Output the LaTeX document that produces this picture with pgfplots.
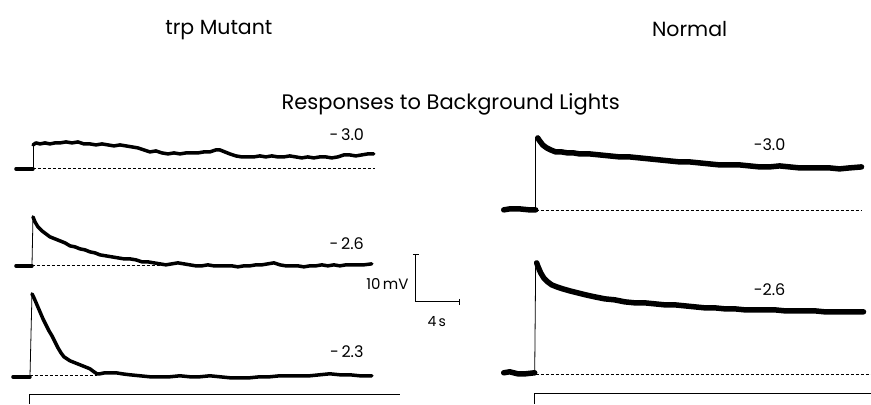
\documentclass[border=0pt]{standalone}
\usepackage{pgfplots}
\pgfplotsset{compat=1.18}
\usepackage{fontspec}
\setmainfont{Poppins}
\begin{document}
\begin{tikzpicture}
\begin{axis}[
  scale only axis, width=871pt, height=404pt,
  xmin=0, xmax=871, ymin=0, ymax=404, y dir=reverse,
  hide axis, clip=false,
  trace/.style={black, line width=3.5pt, line join=round, line cap=round},
  ntrace/.style={black, line width=5.5pt, line join=round, line cap=round},
  step/.style={black, line width=0.8pt},
  base/.style={black, line width=1pt, dash pattern=on 3pt off 2pt},
]
\path (axis cs:0,0) rectangle (axis cs:871,404);
% ---- trp mutant, -3.0
\addplot[trace] coordinates {(16,169)(33,169)};
\addplot[step] coordinates {(33,169)(33,145)};
\addplot[base] coordinates {(33,169)(375,169)};
\addplot[trace] coordinates {(33,145)(36,143)(40,144)(45,143)(50,144)(55,143)(60,143)(66,142)(72,143)(78,142)(84,144)(90,144)(96,145)(102,144)(108,145)(114,146)(120,145)(126,146)(132,147)(138,148)(144,150)(150,152)(156,151)(162,153)(168,154)(174,153)(180,154)(186,153)(192,153)(198,153)(204,152)(210,152)(216,150)(220,150)(225,152)(230,154)(236,156)(242,157)(248,157)(254,157)(260,156)(266,157)(272,156)(278,157)(284,157)(290,156)(296,157)(302,158)(308,157)(314,158)(320,157)(326,157)(332,158)(338,157)(344,155)(350,155)(356,156)(362,155)(368,154)(374,154)};
% ---- trp mutant, -2.6
\addplot[trace] coordinates {(16,266)(32,266)};
\addplot[step] coordinates {(32,266)(33,217)};
\addplot[base] coordinates {(32,266)(170,266)};
\addplot[trace] coordinates {(33,217)(35,222)(38,227)(42,231)(46,234)(50,237)(55,239)(60,241)(65,243)(70,246)(75,247)(80,249)(85,250)(90,252)(95,253)(100,255)(106,256)(112,257)(118,258)(124,259)(130,259)(136,260)(142,262)(148,262)(154,263)(160,264)(166,265)(172,264)(178,263)(184,264)(190,265)(196,266)(202,266)(208,265)(214,266)(220,266)(226,266)(232,266)(238,267)(244,266)(250,266)(256,265)(262,265)(268,264)(274,263)(280,265)(286,266)(292,266)(298,266)(304,267)(310,266)(316,266)(322,265)(328,266)(334,265)(340,266)(346,265)(352,265)(358,265)(364,265)(372,264)};
% ---- trp mutant, -2.3
\addplot[trace] coordinates {(13,377)(30,377)};
\addplot[step] coordinates {(30,377)(32,294)};
\addplot[base] coordinates {(30,376)(97,376)};
\addplot[trace] coordinates {(32,294)(34,298)(37,305)(40,312)(43,319)(46,325)(49,331)(52,336)(55,342)(58,348)(61,353)(64,357)(67,359)(70,361)(75,363)(80,365)(85,367)(90,369)(94,372)(97,374)(100,374)(105,373)(110,373)(116,373)(122,374)(130,375)(140,376)(150,377)(160,377)(170,377)(180,376)(190,377)(200,377)(210,376)(220,377)(230,378)(240,378)(250,378)(260,377)(270,377)(280,376)(290,376)(300,376)(310,376)(320,375)(330,374)(340,375)(350,375)(360,376)(372,376)};
% stimulus line left
\addplot[black, line width=1pt] coordinates {(30,404)(30,395)(400,395)};
% ---- normal, -3.0
\addplot[ntrace] coordinates {(504,210)(510,209)(520,209)(530,210)(536,210)};
\addplot[step] coordinates {(536,210)(536,137)};
\addplot[base] coordinates {(536,211)(862,211)};
\addplot[ntrace] coordinates {(538,138)(540,141)(543,145)(547,148)(551,150)(556,152)(562,152)(568,153)(574,153)(580,154)(590,154)(600,155)(610,156)(620,157)(630,157)(640,158)(650,159)(660,160)(670,161)(680,162)(690,162)(700,163)(710,164)(720,165)(730,165)(740,165)(750,166)(760,167)(770,167)(780,166)(790,167)(800,168)(810,168)(820,168)(830,168)(840,169)(850,168)(862,167)};
% ---- normal, -2.6
\addplot[ntrace] coordinates {(504,373)(510,372)(518,374)(526,374)(535,373)};
\addplot[step] coordinates {(535,374)(536,262)};
\addplot[base] coordinates {(536,375)(871,375)};
\addplot[ntrace] coordinates {(537,263)(538,266)(541,273)(544,278)(548,282)(552,285)(557,287)(563,289)(570,291)(578,293)(586,295)(595,297)(605,299)(615,300)(625,302)(635,303)(645,303)(655,304)(665,305)(675,305)(685,306)(695,307)(705,308)(715,308)(725,309)(735,309)(745,310)(755,310)(765,310)(775,310)(785,311)(795,311)(805,311)(815,311)(825,312)(835,312)(845,312)(855,312)(864,312)};
% stimulus line right
\addplot[black, line width=1pt] coordinates {(535,404)(535,394)(871,394)};
% ---- scale bar
\addplot[black, line width=1.2pt] coordinates {(416,255)(416,302)(460,302)};
\addplot[black, line width=1.2pt] coordinates {(413,255)(419,255)};
\addplot[black, line width=1.2pt] coordinates {(460,299)(460,305)};
% ---- texts
\node[font=\fontsize{20.5}{24}\selectfont] at (axis cs:219,30) {trp Mutant};
\node[font=\fontsize{20.5}{24}\selectfont] at (axis cs:690,29) {Normal};
\node[font=\fontsize{21}{25}\selectfont] at (axis cs:451,104) {Responses to Background Lights};
\node[font=\fontsize{16}{19}\selectfont] at (axis cs:347,135) {-\,3.0};
\node[font=\fontsize{16}{19}\selectfont] at (axis cs:347,244) {-\,2.6};
\node[font=\fontsize{16}{19}\selectfont] at (axis cs:347,352) {-\,2.3};
\node[font=\fontsize{16}{19}\selectfont] at (axis cs:770,145) {-3.0};
\node[font=\fontsize{16}{19}\selectfont] at (axis cs:770,290) {-2.6};
\node[font=\fontsize{15}{18}\selectfont, anchor=east, inner sep=0pt] at (axis cs:409,284) {10\,mV};
\node[font=\fontsize{14}{17}\selectfont] at (axis cs:437,322) {4\,s};
\end{axis}
\end{tikzpicture}
\end{document}
